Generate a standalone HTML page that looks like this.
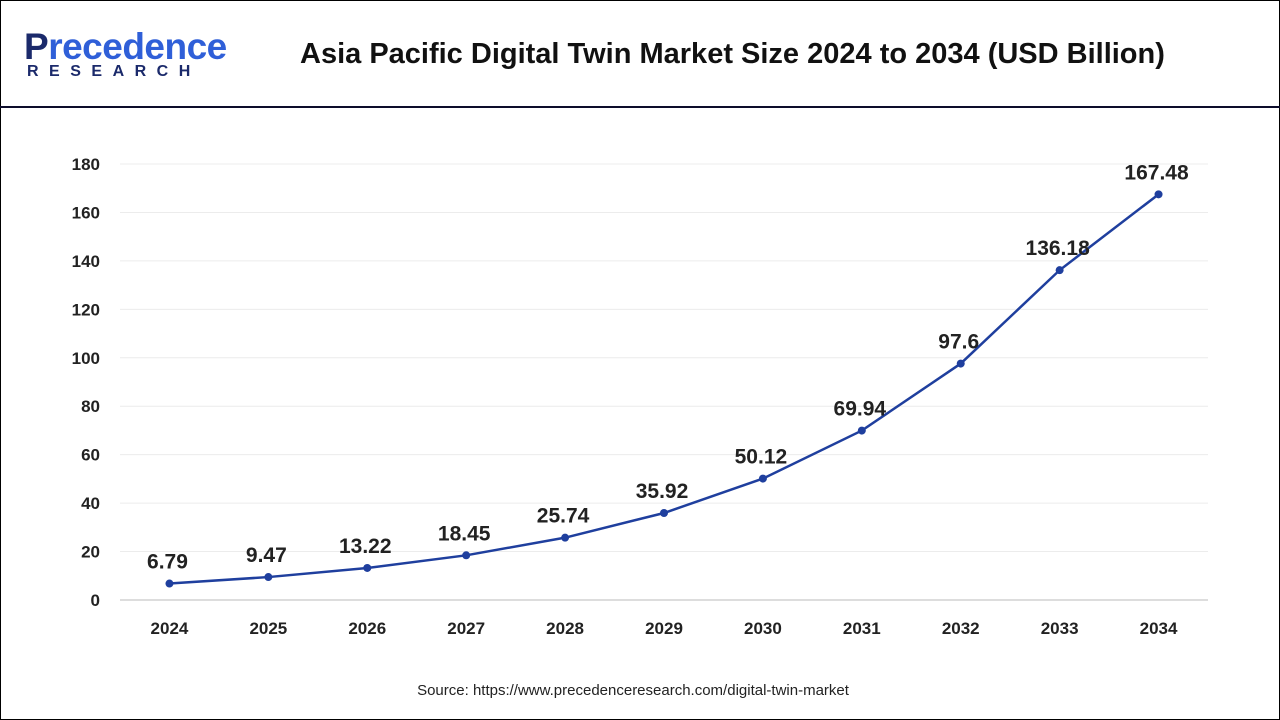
<!DOCTYPE html>
<html><head><meta charset="utf-8"><style>
body{margin:0;width:1280px;height:720px;overflow:hidden;background:#fff;font-family:"Liberation Sans",sans-serif}
#frame{position:absolute;left:0;top:0;width:1278px;height:718px;border:1px solid #000}
#hdr-line{position:absolute;left:0;top:106px;width:1280px;height:2px;background:#0d0d2b}
#logo1{position:absolute;left:24px;top:26px;font-size:37px;font-weight:bold;color:#1b2a6b;letter-spacing:-0.5px}
#logo1 span{color:#2f5fd8}
#logo2{position:absolute;left:27px;top:63px;font-size:16px;font-weight:bold;color:#1b2a6b;letter-spacing:10.5px}
#title{position:absolute;left:300px;top:38px;font-size:29px;font-weight:bold;color:#111}
svg{position:absolute;left:0;top:0}
</style></head><body>
<div id="frame"></div>
<div id="logo1">P<span>recedence</span></div>
<div id="logo2">RESEARCH</div>
<div id="hdr-line"></div>
<div id="title">Asia Pacific Digital Twin Market Size 2024 to 2034 (USD Billion)</div>
<svg id="chart" width="1280" height="720"></svg>
<script>
const categories=["2024","2025","2026","2027","2028","2029","2030","2031","2032","2033","2034"];
const values=[6.79,9.47,13.22,18.45,25.74,35.92,50.12,69.94,97.6,136.18,167.48];
const valueLabels=["6.79","9.47","13.22","18.45","25.74","35.92","50.12","69.94","97.6","136.18","167.48"];
const yTicks=[0,20,40,60,80,100,120,140,160,180];
const svg=document.getElementById('chart');
const NS='http://www.w3.org/2000/svg';
const x0=120,x1=1208,yBase=600,yTop=164,yMax=180;
const step=(x1-x0)/categories.length;
const xs=i=>x0+step*(i+0.5);
const ys=v=>yBase-(v/yMax)*(yBase-yTop);
function mk(t,a){const e=document.createElementNS(NS,t);for(const k in a)e.setAttribute(k,a[k]);svg.appendChild(e);return e;}
yTicks.forEach(t=>{
  const g=mk('line',{x1:x0,x2:x1,y1:ys(t),y2:ys(t),stroke:t===0?'#bbb':'#ececec','stroke-width':1});
  
  
  const l=mk('text',{x:100,y:ys(t)+6,'text-anchor':'end','font-size':17,'font-weight':'bold',fill:'#222','font-family':'Liberation Sans'});
  l.textContent=t;
  
  
});
categories.forEach((c,i)=>{
  const l=mk('text',{x:xs(i),y:634,'text-anchor':'middle','font-size':17,'font-weight':'bold',fill:'#222','font-family':'Liberation Sans'});
  l.textContent=c;
  
  
});
const line=mk('polyline',{points:values.map((v,i)=>xs(i)+','+ys(v)).join(' '),fill:'none',stroke:'#1f3f9e','stroke-width':2.5});


values.forEach((v,i)=>{
  const p=mk('circle',{cx:xs(i),cy:ys(v),r:4,fill:'#1f3f9e'});
  
  
  const t=mk('text',{x:xs(i)-2,y:ys(v)-15,'text-anchor':'middle','font-size':21,'font-weight':'bold',fill:'#222','font-family':'Liberation Sans'});
  t.textContent=valueLabels[i];
  
  
});
const s=mk('text',{x:633,y:695,'text-anchor':'middle','font-size':15,fill:'#222','font-family':'Liberation Sans'});
s.textContent='Source: https://www.precedenceresearch.com/digital-twin-market';


</script>
</body></html>
